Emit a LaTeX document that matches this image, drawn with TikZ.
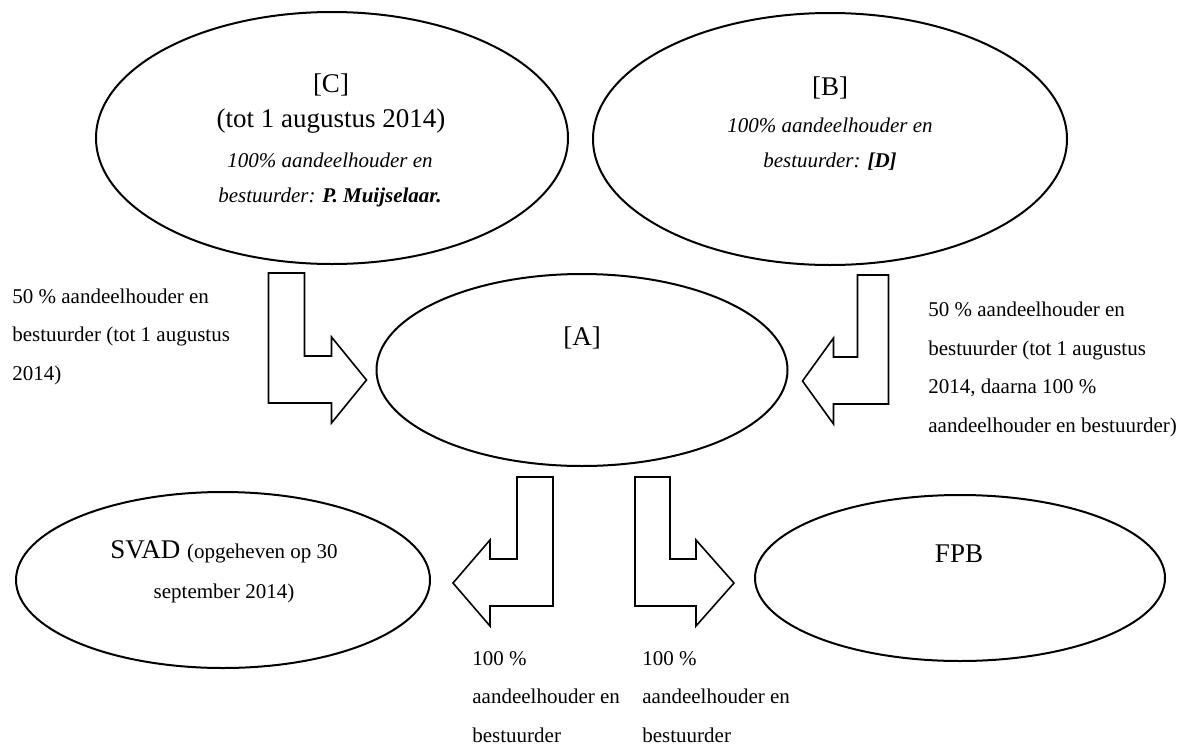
\documentclass[tikz,border=0pt]{standalone}
\usepackage{fontspec}
\setmainfont{Liberation Serif}
\usetikzlibrary{shapes.geometric,calc}

\begin{document}
\begin{tikzpicture}[
  x=0.5pt, y=-0.5pt,
  every node/.style={inner sep=0pt},
  party/.style={draw, ellipse, line width=1pt},
  big/.style={font=\fontsize{13.5}{17.5}\selectfont, align=center, anchor=base},
  role/.style={font=\fontsize{10.5}{17.5}\selectfont\itshape, align=center, anchor=base},
  share/.style={font=\fontsize{10.5}{19.2}\selectfont, align=left, anchor=base west},
  bent/.style={draw, line width=0.8pt, line join=miter}
]
\useasboundingbox (0,0) rectangle (1188,744);

% the five parties
\node[party, minimum width=236pt, minimum height=126pt]   (c)    at (332,138) {};
\node[party, minimum width=237pt, minimum height=126pt]   (b)    at (830,139) {};
\node[party, minimum width=205.5pt, minimum height=96pt]  (a)    at (582,370) {};
\node[party, minimum width=207pt, minimum height=88pt]    (svad) at (223,580) {};
\node[party, minimum width=205pt, minimum height=83pt]    (fpb)  at (960,578) {};

% texts inside (base = last line)
\node[big]  (c-title) at (331,127) {[C]\\(tot 1 augustus 2014)};
\node[role] (c-role)  at (330,202) {100\% aandeelhouder en\\bestuurder: \textbf{P. Muijselaar.}};
\node[big]  (b-title) at (830,95)  {[B]};
\node[role] (b-role)  at (830,167) {100\% aandeelhouder en\\bestuurder: \textbf{[D]}};
\node[big]  (a-title) at (582,345) {[A]};
\node[big, font=\fontsize{13.5}{20}\selectfont] (svad-title) at (224,598)
  {SVAD {\fontsize{10.5}{20}\selectfont(opgeheven op 30}\\{\fontsize{10.5}{20}\selectfont september 2014)}};
\node[big]  (fpb-title) at (959,562) {FPB};

% bent arrows
\coordinate (ca-tip)   at ($(a.west)+(-9,10)$);
\coordinate (ba-tip)   at ($(a.east)+(14,11)$);
\coordinate (asv-tip)  at ($(svad.east)+(22,3)$);
\coordinate (afp-tip)  at ($(fpb.west)+(-20,5)$);
\draw[bent] (ca-tip) -- ++(-35,-43) -- ++(0,19) -- ++(-27,0) -- ++(0,-83) -- ++(-36,0) -- ++(0,130) -- ++(63,0) -- ++(0,20) -- cycle;
\draw[bent] (ba-tip) -- ++(31,-43) -- ++(0,19) -- ++(24,0) -- ++(0,-82) -- ++(31,0) -- ++(0,129) -- ++(-55,0) -- ++(0,20) -- cycle;
\draw[bent] (asv-tip) -- ++(37,-43) -- ++(0,19) -- ++(27,0) -- ++(0,-82) -- ++(36,0) -- ++(0,129) -- ++(-63,0) -- ++(0,20) -- cycle;
\draw[bent] (afp-tip) -- ++(-38,-43) -- ++(0,19) -- ++(-26,0) -- ++(0,-82) -- ++(-35,0) -- ++(0,129) -- ++(61,0) -- ++(0,20) -- cycle;

% shares (base = last line)
\node[share] (ca-share)  at (12,380)  {50 \% aandeelhouder en\\bestuurder (tot 1 augustus\\2014)};
\node[share] (ba-share)  at (928,432) {50 \% aandeelhouder en\\bestuurder (tot 1 augustus\\2014, daarna 100 \%\\aandeelhouder en bestuurder)};
\node[share] (asv-share) at (472,742) {100 \%\\aandeelhouder en\\bestuurder};
\node[share] (afp-share) at (642,742) {100 \%\\aandeelhouder en\\bestuurder};
\end{tikzpicture}
\end{document}
